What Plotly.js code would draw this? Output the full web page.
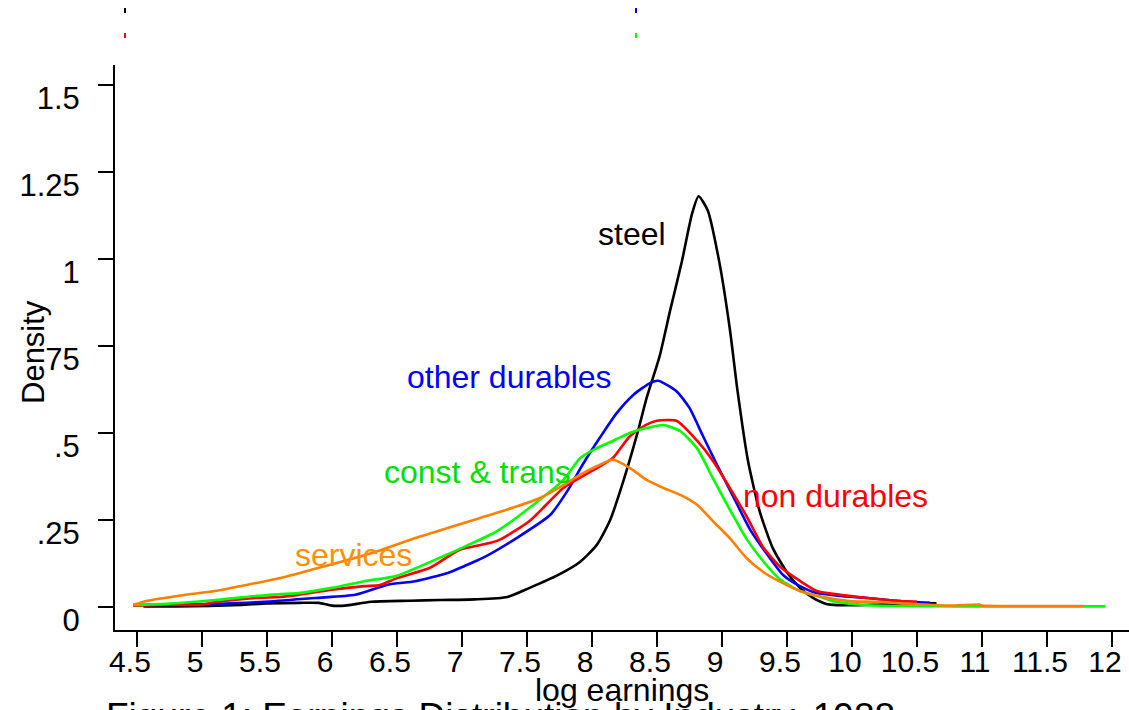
<!DOCTYPE html>
<html>
<head>
<meta charset="utf-8">
<script src="https://cdn.plot.ly/plotly-3.0.1.min.js"></script>
<style>
html,body{margin:0;padding:0;background:#fff;}
#chart{width:1129px;height:710px;}
</style>
</head>
<body>
<div id="chart"></div>
<script>
// ---- data ----
const steelX = [4.55, 4.8, 5.06, 5.3, 5.5, 5.75, 5.9, 6.0, 6.1, 6.3, 6.6, 6.83, 7.1, 7.35, 7.52, 7.73, 7.91, 8.04, 8.14, 8.24, 8.35, 8.42, 8.52, 8.6, 8.69, 8.77, 8.82, 8.89, 8.98, 9.06, 9.12, 9.2, 9.29, 9.39, 9.5, 9.6, 9.7, 9.81, 9.95, 10.1, 10.3, 10.45, 10.65];
const steelY = [0.002, 0.002, 0.003, 0.006, 0.01, 0.012, 0.012, 0.004, 0.004, 0.015, 0.018, 0.02, 0.022, 0.029, 0.055, 0.09, 0.13, 0.18, 0.25, 0.36, 0.5, 0.6, 0.72, 0.85, 0.99, 1.13, 1.18, 1.14, 0.99, 0.8, 0.62, 0.42, 0.275, 0.17, 0.10, 0.055, 0.026, 0.008, 0.005, 0.006, 0.009, 0.011, 0.011];

const durX = [4.47, 4.8, 5.1, 5.48, 5.87, 6.18, 6.43, 6.64, 6.89, 7.02, 7.16, 7.42, 7.68, 7.81, 7.93, 8.06, 8.19, 8.32, 8.45, 8.51, 8.65, 8.75, 8.85, 8.96, 9.08, 9.22, 9.35, 9.47, 9.6, 9.73, 9.91, 10.12, 10.37, 10.6];
const durY = [0.006, 0.007, 0.009, 0.015, 0.026, 0.035, 0.064, 0.074, 0.098, 0.118, 0.141, 0.198, 0.265, 0.333, 0.41, 0.486, 0.557, 0.61, 0.644, 0.65, 0.62, 0.572, 0.494, 0.41, 0.322, 0.22, 0.15, 0.092, 0.06, 0.04, 0.032, 0.026, 0.017, 0.012];

const nondurX = [4.47, 4.7, 5.0, 5.1, 5.41, 5.6, 5.74, 6.0, 6.25, 6.37, 6.5, 6.75, 6.98, 7.27, 7.52, 7.78, 8.04, 8.16, 8.29, 8.42, 8.5, 8.65, 8.81, 8.93, 9.06, 9.19, 9.32, 9.45, 9.6, 9.73, 9.91, 10.12, 10.37, 10.5];
const nondurY = [0.004, 0.006, 0.007, 0.014, 0.026, 0.029, 0.035, 0.05, 0.06, 0.063, 0.083, 0.112, 0.164, 0.19, 0.247, 0.342, 0.40, 0.428, 0.49, 0.524, 0.535, 0.535, 0.477, 0.42, 0.342, 0.26, 0.17, 0.115, 0.075, 0.046, 0.035, 0.026, 0.017, 0.015];

const constX = [4.47, 4.73, 5.1, 5.48, 5.74, 6.0, 6.25, 6.5, 6.77, 7.0, 7.27, 7.52, 7.78, 7.91, 8.04, 8.16, 8.29, 8.42, 8.55, 8.68, 8.81, 8.93, 9.06, 9.19, 9.32, 9.45, 9.6, 9.73, 9.85, 10.1, 10.37, 10.8, 11.5, 11.95];
const constY = [0.006, 0.009, 0.02, 0.034, 0.04, 0.055, 0.074, 0.09, 0.132, 0.17, 0.218, 0.285, 0.365, 0.428, 0.457, 0.477, 0.50, 0.514, 0.523, 0.505, 0.455, 0.37, 0.28, 0.195, 0.13, 0.078, 0.046, 0.032, 0.017, 0.006, 0.003, 0.002, 0.002, 0.002];

const servX = [4.47, 4.58, 4.85, 5.1, 5.35, 5.62, 5.87, 6.12, 6.38, 6.64, 6.89, 7.14, 7.39, 7.6, 7.78, 7.91, 8.04, 8.16, 8.29, 8.42, 8.55, 8.68, 8.81, 8.93, 9.06, 9.19, 9.32, 9.45, 9.6, 9.73, 9.98, 10.23, 10.37, 10.75, 10.98, 11.0, 11.2, 11.78];
const servY = [0.006, 0.018, 0.034, 0.046, 0.064, 0.085, 0.11, 0.135, 0.164, 0.198, 0.227, 0.256, 0.285, 0.313, 0.35, 0.38, 0.405, 0.423, 0.40, 0.365, 0.342, 0.322, 0.293, 0.247, 0.198, 0.14, 0.10, 0.072, 0.046, 0.032, 0.017, 0.014, 0.011, 0.004, 0.007, 0.004, 0.003, 0.003];

const xTickVals = [4.5, 5, 5.5, 6, 6.5, 7, 7.5, 8, 8.5, 9, 9.5, 10, 10.5, 11, 11.5, 12];
const xTickText = ["4.5", "5", "5.5", "6", "6.5", "7", "7.5", "8", "8.5", "9", "9.5", "10", "10.5", "11", "11.5", "12"];
const yTickVals = [0, 0.25, 0.5, 0.75, 1, 1.25, 1.5];
const yTickText = ["0", ".25", ".5", ".75", "1", "1.25", "1.5"];

const seriesNames = ["steel", "other durables", "non durables", "const & trans", "services"];
const seriesColors = ["#000000", "#0000ff", "#ff0000", "#00ff00", "#ff8000"];

// ---- chart ----
const FONT = "Liberation Sans, Arial, Helvetica, sans-serif";
const xs = [steelX, durX, nondurX, constX, servX];
const ys = [steelY, durY, nondurY, constY, servY];
const traces = xs.map((x, i) => ({
  type: "scatter", mode: "lines", x: x, y: ys[i], name: seriesNames[i],
  line: {color: seriesColors[i], width: 2.6, shape: "spline", smoothing: 0.6},
  hoverinfo: "x+y+name"
}));

function lab(text, x, y, color) {
  return {text: text, x: x, y: y, xref: "x", yref: "y", showarrow: false,
          xanchor: "center", yanchor: "middle",
          font: {family: FONT, size: 32, color: color}};
}

const layout = {
  width: 1129, height: 710,
  margin: {l: 115, r: 0, t: 65, b: 80, pad: 0},
  paper_bgcolor: "#ffffff", plot_bgcolor: "#ffffff",
  showlegend: false,
  font: {family: FONT, size: 29, color: "#000"},
  xaxis: {
    range: [4.331, 12.131], tickvals: xTickVals, ticktext: xTickText,
    ticks: "outside", ticklen: 15, tickwidth: 2, tickcolor: "#000",
    showline: true, linecolor: "#000", linewidth: 2, showgrid: false, zeroline: false,
    tickfont: {family: FONT, size: 30, color: "#000"},
    ticklabelshift: -7, ticklabelstandoff: -11
  },
  yaxis: {
    range: [-0.066, 1.557], tickvals: yTickVals, ticktext: yTickText,
    ticks: "outside", ticklen: 15, tickwidth: 2, tickcolor: "#000",
    showline: true, linecolor: "#000", linewidth: 2, showgrid: false, zeroline: false,
    tickfont: {family: FONT, size: 31, color: "#000"},
    ticklabelshift: 13, ticklabelstandoff: 12
  },
  annotations: [
    lab("steel", 8.308, 1.072, "#000000"),
    lab("other durables", 7.362, 0.661, "#0000ff"),
    lab("const & trans", 7.116, 0.388, "#00e000"),
    lab("non durables", 9.877, 0.319, "#ff0000"),
    lab("services", 6.169, 0.149, "#ff9000"),
    {text: "Density", xref: "paper", yref: "paper", x: (33 - 115) / 1014, y: (630 - 352) / 565,
     textangle: -90, showarrow: false, xanchor: "center", yanchor: "middle",
     font: {family: FONT, size: 31, color: "#000"}},
    {text: "log earnings", xref: "paper", yref: "paper", x: (622 - 115) / 1014, y: (630 - 690) / 565,
     showarrow: false, xanchor: "center", yanchor: "middle",
     font: {family: FONT, size: 32, color: "#000"}},
    {text: "Figure 1: Earnings Distribution by Industry, 1988", xref: "paper", yref: "paper",
     x: (104 - 115) / 1014, y: (630 - 694) / 565, showarrow: false, xanchor: "left", yanchor: "top",
     font: {family: FONT, size: 37, color: "#000"}}
  ],
  shapes: [
    {type: "line", xref: "paper", yref: "paper", x0: 10 / 1014, x1: 10 / 1014, y0: (630 - 13) / 565, y1: (630 - 8) / 565, line: {color: seriesColors[0], width: 2}},
    {type: "line", xref: "paper", yref: "paper", x0: 521 / 1014, x1: 521 / 1014, y0: (630 - 13) / 565, y1: (630 - 8) / 565, line: {color: seriesColors[1], width: 2}},
    {type: "line", xref: "paper", yref: "paper", x0: 10 / 1014, x1: 10 / 1014, y0: (630 - 38) / 565, y1: (630 - 33) / 565, line: {color: seriesColors[2], width: 2}},
    {type: "line", xref: "paper", yref: "paper", x0: 521 / 1014, x1: 521 / 1014, y0: (630 - 38) / 565, y1: (630 - 33) / 565, line: {color: seriesColors[3], width: 2}}
  ]
};

Plotly.newPlot("chart", traces, layout, {displayModeBar: false, staticPlot: true});
</script>
</body>
</html>
